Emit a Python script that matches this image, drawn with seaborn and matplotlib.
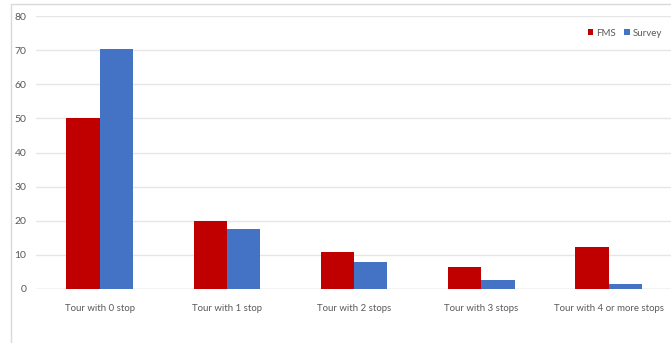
import matplotlib
matplotlib.use("Agg")
import matplotlib.pyplot as plt
from matplotlib.patches import Rectangle
import pandas as pd
import seaborn as sns

categories = ["Tour with 0 stop", "Tour with 1 stop", "Tour with 2 stops",
              "Tour with 3 stops", "Tour with 4 or more stops"]
series = ["FMS", "Survey"]
fms_values = [50.0, 20.0, 10.9, 6.4, 12.3]
survey_values = [70.3, 17.7, 7.8, 2.5, 1.4]
y_ticks = [0, 10, 20, 30, 40, 50, 60, 70, 80]

df = pd.DataFrame({
    "category": categories * 2,
    "series": [series[0]] * len(categories) + [series[1]] * len(categories),
    "value": fms_values + survey_values,
})

sns.set_theme(style="white")
plt.rcParams["font.family"] = ["Lato", "DejaVu Sans"]

W, H = 671, 343
fig = plt.figure(figsize=(W / 100, H / 100), dpi=100)
ax = fig.add_axes([36 / W, (H - 289) / H, 635 / W, 273 / H])

palette = {"FMS": "#C00000", "Survey": "#4472C4"}
sns.barplot(data=df, x="category", y="value", hue="series", order=categories,
            hue_order=series, palette=palette, width=0.524, saturation=1,
            edgecolor="none", ax=ax, zorder=3)

ax.set_ylim(0, 80)
ax.set_xlim(-0.5, 4.49)
ax.set_yticks(y_ticks)
ax.set_yticklabels([str(t) for t in y_ticks])
ax.yaxis.grid(True, color="#E6E6E6", linewidth=1.0, zorder=0)
ax.xaxis.grid(False)
for s in ax.spines.values():
    s.set_visible(False)
ax.axhline(0, color="#D9D9D9", linewidth=1.0, zorder=2)
ax.tick_params(axis="y", length=0, pad=7, labelsize=7.5, labelcolor="#595959")
ax.tick_params(axis="x", length=0, pad=10.5, labelsize=6.9, labelcolor="#595959")
ax.set_xlabel("")
ax.set_ylabel("")

leg = ax.legend(loc="upper right", bbox_to_anchor=(0.995, 0.975), frameon=False,
                ncol=2, fontsize=7.0, handlelength=0.6, handleheight=0.6,
                handletextpad=0.3, columnspacing=0.8, borderaxespad=0.2)
for t in leg.get_texts():
    t.set_color("#595959")

# chart area outline
fig.add_artist(Rectangle((11 / W, -0.05), 1.2, (H - 4) / H + 0.05,
                         transform=fig.transFigure, fill=False,
                         edgecolor="#D9D9D9", linewidth=1.0))

fig.savefig("out.png", dpi=100)
